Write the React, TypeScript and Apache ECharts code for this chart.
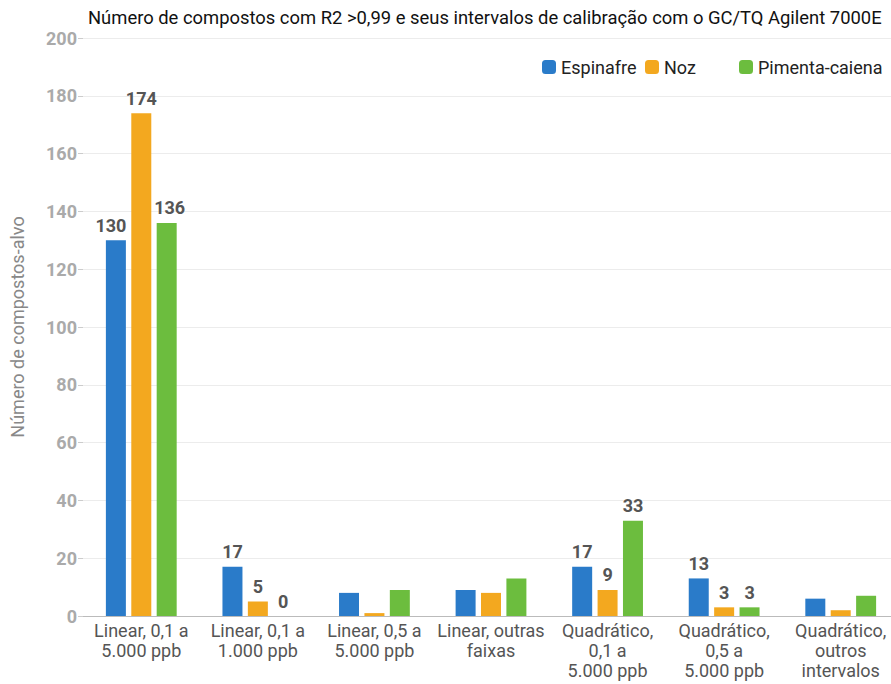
import React, { useEffect, useRef } from "react";
import * as echarts from "echarts";

const categories = [
  "Linear, 0,1 a\n5.000 ppb",
  "Linear, 0,1 a\n1.000 ppb",
  "Linear, 0,5 a\n5.000 ppb",
  "Linear, outras\nfaixas",
  "Quadrático,\n0,1 a\n5.000 ppb",
  "Quadrático,\n0,5 a\n5.000 ppb",
  "Quadrático,\noutros\nintervalos",
];

const espinafre = [130, 17, 8, 9, 17, 13, 6];
const noz = [174, 5, 1, 8, 9, 3, 2];
const pimenta = [136, 0, 9, 13, 33, 3, 7];

// Only these values carry a printed label above the bar
const espinafreLabeled = [true, true, false, false, true, true, false];
const nozLabeled = [true, true, false, false, true, true, false];
const pimentaLabeled = [true, true, false, false, true, true, false];

const FONT = "Roboto, 'Noto Sans', sans-serif";

function barSeries(
  name: string,
  values: number[],
  labeled: boolean[],
  color: string,
  firstOffset: number
) {
  return {
    name,
    type: "bar",
    barWidth: 20,
    barGap: "27%",
    itemStyle: { color },
    data: values.map((v, i) => ({
      value: v,
      label: {
        show: labeled[i],
        position: "top",
        distance: 6,
        offset: [i === 0 ? firstOffset : 0, 0],
        color: "#555",
        fontWeight: "bold",
        fontSize: 18,
        fontFamily: FONT,
      },
    })),
  };
}

export default function App() {
  const ref = useRef<HTMLDivElement>(null);

  useEffect(() => {
    if (!ref.current) return;
    const chart = echarts.init(ref.current, undefined, { renderer: "svg" });
    const legendText = { color: "#222", fontSize: 18, fontFamily: FONT };
    const legendBase = {
      top: 58,
      padding: 0,
      itemWidth: 14,
      itemHeight: 14,
      textStyle: legendText,
    };
    chart.setOption({
      animation: false,
      backgroundColor: "#fff",
      title: {
        text: "Número de compostos com R2 >0,99 e seus intervalos de calibração com o GC/TQ Agilent 7000E",
        left: 83,
        top: 3,
        textStyle: { color: "#111", fontSize: 18.4, fontWeight: "normal", fontFamily: FONT },
      },
      legend: [
        { ...legendBase, data: ["Espinafre"], left: 542 },
        { ...legendBase, data: ["Noz"], left: 645 },
        { ...legendBase, data: ["Pimenta-caiena"], left: 739 },
      ],
      grid: {
        left: 83,
        top: 38,
        width: 816,
        bottom: 68,
        containLabel: false,
        outerBoundsMode: "none",
      },
      xAxis: {
        type: "category",
        data: categories,
        axisLine: { lineStyle: { color: "#bbb", width: 1 } },
        axisTick: { show: false },
        axisLabel: {
          color: "#555",
          fontSize: 18,
          lineHeight: 20,
          margin: 4,
          interval: 0,
          fontFamily: FONT,
        },
      },
      yAxis: {
        type: "value",
        min: 0,
        max: 200,
        interval: 20,
        name: "Número de compostos-alvo",
        nameLocation: "middle",
        nameGap: 57,
        nameTextStyle: { color: "#888", fontSize: 18, fontFamily: FONT },
        axisLine: { show: false },
        axisTick: { show: true, length: 5, lineStyle: { color: "#ccc" } },
        splitLine: { lineStyle: { color: "#ececec" } },
        axisLabel: {
          color: "#aaa",
          fontSize: 18,
          fontWeight: "bold",
          margin: 6,
          fontFamily: FONT,
        },
      },
      series: [
        barSeries("Espinafre", espinafre, espinafreLabeled, "#2a7bc9", -5),
        barSeries("Noz", noz, nozLabeled, "#f3a81f", 0),
        barSeries("Pimenta-caiena", pimenta, pimentaLabeled, "#6cbd3e", 3),
      ],
    });
    return () => chart.dispose();
  }, []);

  return (
    <div
      ref={ref}
      style={{ position: "fixed", left: 0, top: 0, width: 891, height: 684 }}
    />
  );
}
